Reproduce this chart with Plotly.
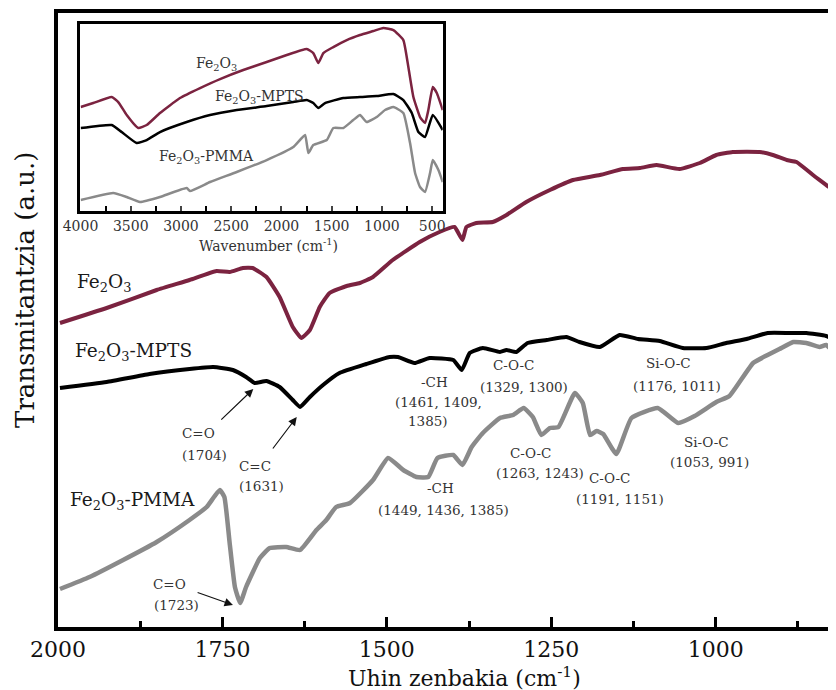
import plotly.graph_objects as go

# ---------------- main spectrum data (wavenumber cm-1, transmittance a.u.) ----------------
fe2o3_wn = [1997, 1926, 1850, 1800, 1759, 1739, 1719, 1704, 1683, 1663, 1643, 1630, 1617, 1602,
            1587, 1561, 1541, 1521, 1491, 1450, 1420, 1397, 1385, 1379, 1364, 1339, 1318, 1288,
            1252, 1217, 1176, 1141, 1115, 1090, 1055, 1024, 999, 974, 933, 913, 892, 877, 852,
            822, 815]
fe2o3_t = [3.04, 3.19, 3.37, 3.47, 3.56, 3.55, 3.59, 3.59, 3.50, 3.30, 3.00, 2.89, 2.97, 3.20,
           3.34, 3.41, 3.44, 3.50, 3.67, 3.85, 3.95, 4.00, 3.87, 4.00, 4.04, 4.05, 4.12, 4.25,
           4.37, 4.47, 4.52, 4.58, 4.59, 4.62, 4.58, 4.64, 4.72, 4.75, 4.75, 4.72, 4.67, 4.65, 4.52,
           4.37, 4.32]

mpts_wn = [1997, 1926, 1861, 1800, 1764, 1734, 1714, 1701, 1683, 1663, 1643, 1632, 1617, 1597,
           1572, 1531, 1496, 1483, 1458, 1435, 1399, 1386, 1374, 1354, 1328, 1318, 1303, 1286,
           1257, 1227, 1207, 1176, 1146, 1118, 1085, 1050, 1014, 984, 953, 921, 887, 862, 832, 815]
mpts_t = [2.39, 2.45, 2.53, 2.58, 2.60, 2.57, 2.50, 2.44, 2.46, 2.40, 2.27, 2.20, 2.30, 2.42,
          2.54, 2.63, 2.70, 2.70, 2.64, 2.69, 2.67, 2.57, 2.74, 2.79, 2.75, 2.77, 2.75, 2.84,
          2.87, 2.90, 2.85, 2.80, 2.92, 2.88, 2.86, 2.79, 2.79, 2.84, 2.88, 2.94, 2.94, 2.94, 2.91, 2.86]

pmma_wn = [1997, 1952, 1901, 1850, 1800, 1774, 1754, 1747, 1739, 1731, 1723, 1714, 1693, 1678,
           1653, 1632, 1607, 1592, 1577, 1556, 1521, 1498, 1475, 1455, 1437, 1423, 1399, 1385,
           1371, 1354, 1328, 1308, 1292, 1278, 1265, 1252, 1239, 1214, 1202, 1191, 1181, 1171,
           1151, 1128, 1088, 1057, 1032, 999, 979, 943, 921, 903, 882, 862, 842, 832, 815]
pmma_t = [0.38, 0.50, 0.67, 0.85, 1.07, 1.20, 1.37, 1.30, 0.84, 0.40, 0.24, 0.40, 0.69, 0.79,
          0.80, 0.77, 0.97, 1.07, 1.20, 1.24, 1.47, 1.69, 1.57, 1.50, 1.50, 1.69, 1.72, 1.62,
          1.80, 1.94, 2.09, 2.12, 2.19, 2.10, 1.92, 1.99, 2.00, 2.34, 2.24, 1.92, 1.96, 1.93,
          1.73, 2.09, 2.19, 2.04, 2.11, 2.25, 2.31, 2.64, 2.72, 2.78, 2.85, 2.84, 2.80, 2.82, 2.70]

# ---------------- inset data (4000-400 cm-1) ----------------
in_fe2o3_wn = [3998, 3873, 3689, 3624, 3540, 3425, 3341, 3209, 3010, 2810, 2611, 2380, 2147, 1947,
               1748, 1683, 1633, 1583, 1484, 1350, 1218, 1085, 986, 886, 787, 737, 687, 621, 571,
               538, 494, 454, 395]
in_fe2o3_t = [1.04, 1.08, 1.14, 1.09, 0.96, 0.83, 0.86, 0.98, 1.13, 1.23, 1.32, 1.41, 1.49, 1.56,
              1.62, 1.58, 1.48, 1.58, 1.64, 1.71, 1.76, 1.80, 1.83, 1.81, 1.71, 1.44, 1.14, 0.94, 0.88,
              1.01, 1.24, 1.18, 1.01]

in_mpts_wn = [3998, 3689, 3590, 3441, 3341, 3209, 2943, 2711, 2445, 2147, 1882, 1748, 1683, 1633,
              1566, 1384, 1218, 1052, 886, 787, 703, 637, 571, 494, 395]
in_mpts_t = [0.83, 0.86, 0.79, 0.68, 0.71, 0.79, 0.89, 0.96, 1.01, 1.05, 1.09, 1.11, 1.08, 1.03,
             1.08, 1.13, 1.14, 1.15, 1.17, 1.11, 0.98, 0.79, 0.74, 0.96, 0.81]

in_pmma_wn = [3998, 3674, 3540, 3408, 3209, 2943, 2910, 2711, 2445, 2147, 1882, 1765, 1732, 1683,
              1549, 1484, 1384, 1285, 1218, 1151, 1052, 969, 886, 787, 720, 670, 621, 571, 521,
              494, 438, 395]
in_pmma_t = [0.11, 0.18, 0.14, 0.09, 0.14, 0.23, 0.20, 0.29, 0.39, 0.51, 0.64, 0.76, 0.58, 0.66,
             0.71, 0.83, 0.83, 0.91, 0.96, 0.89, 0.94, 1.01, 1.04, 0.98, 0.68, 0.38, 0.24, 0.19, 0.38,
             0.51, 0.41, 0.29]

main_tickvals = [2000, 1750, 1500, 1250, 1000]
inset_tickvals = [4000, 3500, 3000, 2500, 2000, 1500, 1000, 500]

# band assignment labels: (text, wavenumber, transmittance)
band_labels = [
    ("C=O", 1787, 1.94), ("(1704)", 1777, 1.72),
    ("C=C", 1700, 1.61), ("(1631)", 1690, 1.41),
    ("-CH", 1427, 2.45), ("(1461, 1409,", 1422, 2.25), ("1385)", 1437, 2.06),
    ("C-O-C", 1308, 2.62), ("(1329, 1300)", 1292, 2.40),
    ("Si-O-C", 1072, 2.64), ("(1176, 1011)", 1059, 2.41),
    ("C=O", 1830, 0.43), ("(1723)", 1820, 0.22),
    ("-CH", 1419, 1.39), ("(1449, 1436, 1385)", 1414, 1.17),
    ("C-O-C", 1282, 1.74), ("(1263, 1243)", 1267, 1.54),
    ("C-O-C", 1161, 1.49), ("(1191, 1151)", 1145, 1.28),
    ("Si-O-C", 1014, 1.85), ("(1053, 991)", 1009, 1.65),
]
# arrows: (head wn, head t, tail wn, tail t)
arrows = [(1703, 2.38, 1754, 2.06), (1637, 2.10, 1675, 1.77), (1734, 0.22, 1790, 0.35)]

RED = "#7b2340"
GRAY = "#8a8a8a"
FONT = "DejaVu Serif"
FE = "Fe<sub>2</sub>O<sub>3</sub>"

fig = go.Figure()
for wn, t, c, w in [(fe2o3_wn, fe2o3_t, RED, 4), (mpts_wn, mpts_t, "black", 4), (pmma_wn, pmma_t, GRAY, 4.5)]:
    fig.add_trace(go.Scatter(x=wn, y=t, mode="lines", line=dict(color=c, width=w, shape="spline", smoothing=0.4),
                             showlegend=False, hoverinfo="skip"))
for wn, t, c in [(in_fe2o3_wn, in_fe2o3_t, RED), (in_mpts_wn, in_mpts_t, "black"), (in_pmma_wn, in_pmma_t, GRAY)]:
    fig.add_trace(go.Scatter(x=wn, y=t, mode="lines", xaxis="x2", yaxis="y2",
                             line=dict(color=c, width=2.5, shape="spline", smoothing=0.4),
                             showlegend=False, hoverinfo="skip"))

ann = []
for txt, x, y in band_labels:
    ann.append(dict(text=txt, x=x, y=y, xref="x", yref="y", showarrow=False,
                    font=dict(family=FONT, size=13.5, color="#333"), xanchor="center", yanchor="middle"))
for hx, hy, tx, ty in arrows:
    ann.append(dict(text="", x=hx, y=hy, ax=tx, ay=ty, xref="x", yref="y", axref="x", ayref="y",
                    showarrow=True, arrowhead=2, arrowsize=1.4, arrowwidth=1.2, arrowcolor="#111", standoff=0))
for txt, x, y in [(FE, 1974, 3.44), (FE + "-MPTS", 1977, 2.75), (FE + "-PMMA", 1985, 1.26)]:
    ann.append(dict(text=txt, x=x, y=y, xref="x", yref="y", showarrow=False, xanchor="left", yanchor="middle",
                    font=dict(family=FONT, size=18.5, color="#1a1a1a")))
for txt, x, y in [(FE, 2646, 1.47), (FE + "-MPTS", 2218, 1.14), (FE + "-PMMA", 2741, 0.54)]:
    ann.append(dict(text=txt, x=x, y=y, xref="x2", yref="y2", showarrow=False, xanchor="center", yanchor="middle",
                    font=dict(family=FONT, size=14, color="#333")))
ann.append(dict(text="Uhin zenbakia (cm<sup>-1</sup>)", x=0.523, y=-0.081, xref="paper", yref="paper",
                showarrow=False, xanchor="center", yanchor="middle", font=dict(family=FONT, size=22, color="#111")))
ann.append(dict(text="Transmitantzia (a.u.)", x=-0.0424, y=0.549, xref="paper", yref="paper", textangle=-90,
                showarrow=False, xanchor="center", yanchor="middle", font=dict(family=FONT, size=26, color="#111")))
ann.append(dict(text="Wavenumber (cm<sup>-1</sup>)", x=0.27, y=0.622, xref="paper", yref="paper",
                showarrow=False, xanchor="center", yanchor="middle", font=dict(family=FONT, size=14, color="#333")))

# the page body adds an 8px offset at top/left, so the figure is 8px smaller to fill the window exactly
fig.update_layout(
    width=828, height=682,
    margin=dict(l=50, r=0, t=5, b=63, autoexpand=False),
    paper_bgcolor="white", plot_bgcolor="rgba(0,0,0,0)",
    annotations=ann,
    xaxis=dict(range=[2000, 817], showgrid=False, zeroline=False, showline=True, linewidth=4, linecolor="black",
               mirror=True, ticks="inside", ticklen=10, tickwidth=3, tickcolor="black",
               tickvals=main_tickvals, ticktext=[str(v) for v in main_tickvals],
               tickfont=dict(family=FONT, size=22, color="#111"),
               minor=dict(dtick=125, tick0=0, ticks="inside", ticklen=6, tickwidth=3, tickcolor="black")),
    yaxis=dict(range=[0, 6.14], showgrid=False, zeroline=False, showline=True, linewidth=4, linecolor="black",
               showticklabels=False, ticks=""),
    xaxis2=dict(domain=[0.0289, 0.4945], anchor="y2", range=[4000, 395], showgrid=False, zeroline=False,
                showline=True, linewidth=3, linecolor="black", mirror=True, ticks="inside", ticklen=5,
                tickwidth=2, tickvals=inset_tickvals, ticktext=[str(v) for v in inset_tickvals],
                tickfont=dict(family=FONT, size=14, color="#333"),
                minor=dict(dtick=250, tick0=0, ticks="inside", ticklen=5, tickwidth=2, tickcolor="black")),
    yaxis2=dict(domain=[0.6775, 0.982], anchor="x2", range=[0, 1.87], showgrid=False, zeroline=False,
                showline=True, linewidth=3, linecolor="black", mirror=True, showticklabels=False, ticks=""),
)
fig.write_html("out.html")
